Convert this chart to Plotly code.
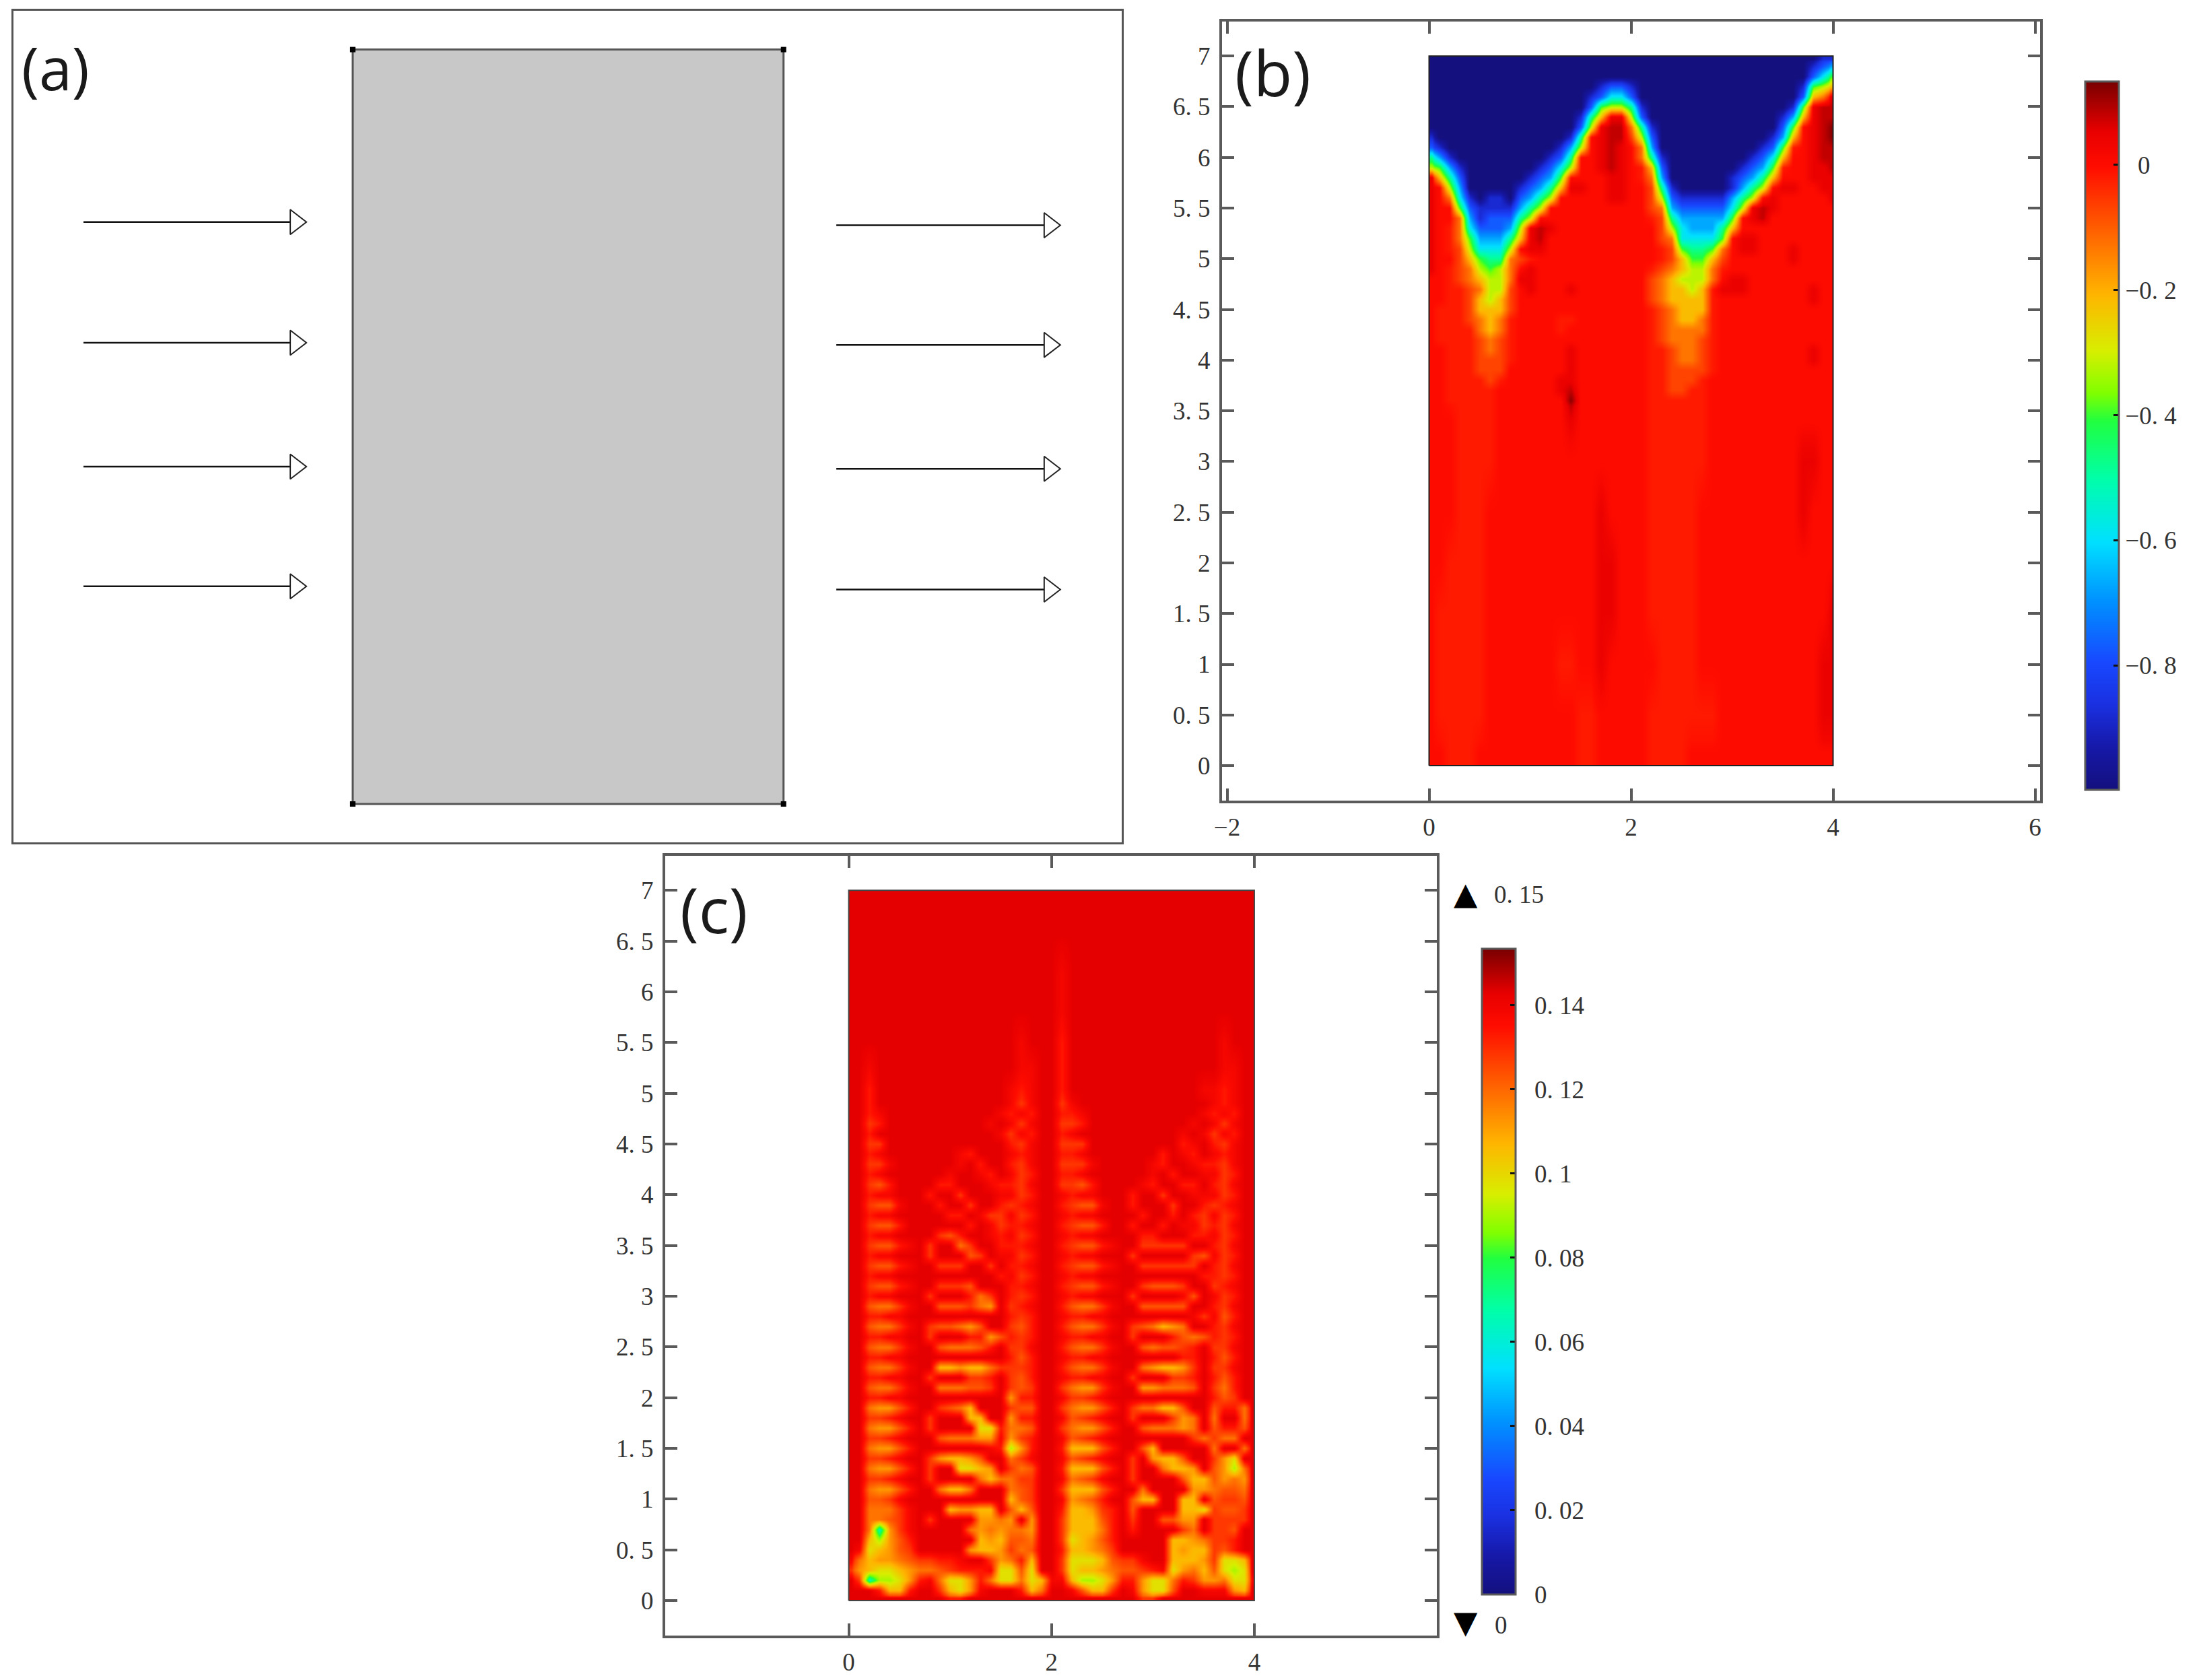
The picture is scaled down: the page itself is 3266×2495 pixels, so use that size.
import plotly.graph_objects as go

# page body keeps its 8px margin, so the figure is 16px smaller than the window
FIG_W = 3250
FIG_H = 2479
PAGE_MARGIN = 8

rect_x = [0, 4, 4, 0, 0]
rect_y = [0, 0, 7, 7, 0]
corner_x = [0, 4, 4, 0]
corner_y = [0, 0, 7, 7]

arrow_in_y = [5.40, 4.28, 3.13, 2.02]
arrow_in_x = [-2.50, -0.53]
arrow_out_y = [5.37, 4.26, 3.11, 1.99]
arrow_out_x = [4.49, 6.47]

rainbow = [
    [0.00, "#14107e"], [0.06, "#1618a8"], [0.12, "#1a30e0"], [0.18, "#1848ff"],
    [0.265, "#0090ff"], [0.35, "#00e0ff"], [0.44, "#00ffa8"], [0.52, "#20ff40"],
    [0.56, "#80ff00"], [0.62, "#d8ee00"], [0.70, "#ffb400"], [0.79, "#ff6000"],
    [0.88, "#ff0c00"], [0.93, "#e80000"], [1.00, "#780000"],
]

grid_x = [0, 0.1, 0.2, 0.3, 0.4, 0.5, 0.6, 0.7, 0.8, 0.9, 1, 1.1, 1.2, 1.3, 1.4, 1.5, 1.6, 1.7, 1.8, 1.9,
          2, 2.1, 2.2, 2.3, 2.4, 2.5, 2.6, 2.7, 2.8, 2.9, 3, 3.1, 3.2, 3.3, 3.4, 3.5, 3.6, 3.7, 3.8, 3.9, 4]

# panel (b): one letter per cell
b_levels = {
    "A": -1.0, "B": -0.88, "C": -0.77, "D": -0.67, "E": -0.58, "F": -0.48, "G": -0.4, "H": -0.32,
    "I": -0.22, "J": -0.13, "K": -0.07, "L": -0.02, "M": 0.0, "N": 0.045, "O": 0.08, "P": 0.12,
}
b_y = [7, 6.9, 6.8, 6.7, 6.6, 6.5, 6.4, 6.3, 6.2, 6.1, 6, 5.9, 5.8, 5.7, 5.6, 5.5, 5.4, 5.3, 5.2, 5.1,
       5, 4.9, 4.8, 4.7, 4.6, 4.5, 4.4, 4.3, 4.2, 4.1, 4, 3.9, 3.8, 3.7, 3.6, 3.5, 3, 2.5, 2, 1.5, 1, 0.5, 0]
b_rows = [
    "A" * 39 + "BB",
    "A" * 38 + "BCD",
    "A" * 38 + "CEG",
    "A" * 17 + "BCCB" + "A" * 16 + "BGHI",
    "A" * 16 + "BCEEC" + "A" * 16 + "CIJN",
    "A" * 16 + "CGHHFB" + "A" * 14 + "BGNOO",
    "A" * 15 + "BFINNHC" + "A" * 13 + "BDINOO",
    "A" * 15 + "CHNOOJFB" + "A" * 12 + "CGMNOP",
    "B" + "A" * 13 + "BFMNOOKHC" + "A" * 11 + "BDIMNOP",
    "CB" + "A" * 11 + "BDHMNONMJD" + "A" * 10 + "BCGLMNOO",
    "FDB" + "A" * 9 + "BCFMMNONMJFB" + "A" * 8 + "BCEIMMNOO",
    "HGDB" + "A" * 7 + "BCEHMMNONMLIC" + "A" * 7 + "BCDGLMMNNO",
    "NIFC" + "A" * 6 + "BCDG" + "MMMMNNMLJ" + "D" + "A" * 6 + "BCDFIMMMNNN",
    "NMHD" + "A" * 5 + "BCDFI" + "NNMMNNMMK" + "FB" + "A" * 5 + "BDFHMNNMMNN",
    "NMJEB" + "ABBA" + "CDFH" + "MMMMMNNMMK" + "HC" + "BBBB" + "BDFH" + "MNMMMMMN",
    "NMMGC" + "BBB" + "BDFH" + "MMMMMMMMMM" + "KJ" + "DC" + "CC" + "CCEH" + "NONMMMMMM",
    "NMMJDB" + "CC" + "CFH" + "MMMMMMMMMMM" + "LK" + "FD" + "DD" + "DDG" + "MNOMMMMMMM",
    "NMLJEC" + "CC" + "DH" + "NONMMMMMMMMMM" + "KH" + "EDDD" + "FI" + "MMMMMMMMMM",
    "NMLJGD" + "DD" + "FI" + "NOMMMMMMMMMMM" + "K" + "JEEEEG" + "MNN" + "MMMMMMMM",
    "NMLKHEEEH" + "MNN" + "MMMMMMMMMMM" + "LK" + "GFFGJ" + "MNNMMMN" + "MMMM",
    "NMMKIGFFJ" + "KLM" + "MMMMMMMMMMM" + "LK" + "IGGIK" + "MMMMMMNMMMM",
    "NMLKJHGHJ" + "MNM" + "MMMMMMMMMM" + "LKJIHHJL" + "MMMMMMMMMMM",
    "MMLKJIHHJ" + "NNM" + "MMMMMMMMMM" + "KJIHHHJM" + "NNMMMMMMMMM",
    "MMLLKJHHK" + "MNMMMN" + "MMMMMMM" + "KJ" + "IIHIL" + "NNNMMMMMMNMM",
    "MMLLKIHIK" + "MMMMMM" + "MMMMMMM" + "KJ" + "IIIIL" + "MMMMMMMMMNMM",
    "MLLLKIIIK" + "MMMMMM" + "MMMMMMM" + "LK" + "JIIIL" + "MMMMMMMMMMMM",
    "MLLLKJIJL" + "MMMMLL" + "MMMMMMM" + "LK" + "JIIJL" + "MMMMMMMMMMMM",
    "MLLLLJIJL" + "MMMMLM" + "MMMMMMM" + "LK" + "JJJJL" + "MMMMMMMMMMMM",
    "MLLLLKJKL" + "MMMMMM" + "MMMMMMM" + "LK" + "JJJKL" + "MMMMMMMMMMMM",
    "MMLLLKJKL" + "MMMMMN" + "MMMMMMM" + "LL" + "KJJKL" + "MMMMMMMMMNMM",
    "MMLLLKKKL" + "MMMMMN" + "MMMMMMM" + "LL" + "KJJKL" + "MMMMMMMMMNMM",
    "MMLLLKKKM" + "MMMMMN" + "MMMMMMM" + "LL" + "KKKKL" + "MMMMMMMMMMMM",
    "MMLLLLKLM" + "MMMMNN" + "MMMMMMM" + "LL" + "KKKLM" + "MMMMMMMMMMMM",
    "MMLLLLLMM" + "MMMMNO" + "MMMMMMM" + "LL" + "KKLLM" + "MMMMMMMMMMMM",
    "MMLLLLLMM" + "MMMMMP" + "MMMMMMM" + "LL" + "LLLLM" + "MMMMMMMMMMMM",
    "MMMLLLLMM" + "MMMMMN" + "MMMMMMM" + "LL" + "LLLLM" + "MMMMMMMMMMMM",
    "MMMLLLLMM" + "MMMMMM" + "MMMMMMM" + "LL" + "LLLLM" + "MMMMMMMMNNMM",
    "MMMLLLMMM" + "MMMMMM" + "MMNMMMM" + "LL" + "LLLMM" + "MMMMMMMMNMMM",
    "MMLLLLMMM" + "MMMMMM" + "MMNNMMM" + "LL" + "LLLMM" + "MMMMMMMMMMMM",
    "MLLLLLMMM" + "MMMMMM" + "MMNNMMM" + "LL" + "LLLMM" + "MMMMMMMMMMMN",
    "MLLLLLMMM" + "MMMMLL" + "MMNMMMM" + "ML" + "LLLMM" + "MMMMMMMMMMNN",
    "MLLLLLMMM" + "MMMMMM" + "LLMMMMM" + "LL" + "LLLLL" + "MMMMMMMMMMNN",
    "MMLLLMMMM" + "MMMMMM" + "LLMMMMM" + "LL" + "LLMMM" + "MMMMMMMMMMMM",
]

# panel (c): one digit per cell, groups follow the bands of the picture
c_levels = {
    "0": 0.143, "1": 0.138, "2": 0.133, "3": 0.128, "4": 0.123, "5": 0.118,
    "6": 0.112, "7": 0.106, "8": 0.098, "9": 0.09, "c": 0.065,
}
c_y = [7, 6.5, 6.2, 5.75, 5.5, 5.25, 5, 4.9, 4.8, 4.7, 4.6, 4.5, 4.4, 4.3, 4.2, 4.1, 4, 3.9, 3.8, 3.7, 3.6,
       3.5, 3.4, 3.3, 3.2, 3.1, 3, 2.9, 2.8, 2.7, 2.6, 2.5, 2.4, 2.3, 2.2, 2.1, 2, 1.9, 1.8, 1.7, 1.6, 1.5,
       1.4, 1.3, 1.2, 1.1, 1, 0.9, 0.8, 0.7, 0.6, 0.5, 0.4, 0.3, 0.2, 0.1, 0]
c_rows = [
    "00 000000 00000000 0000 00 000000 00000000 0000 0",
    "00 000000 00000000 0000 00 000000 00000000 0000 0",
    "00 000000 00000000 0000 01 000000 00000000 0000 0",
    "00 000000 00000000 0000 01 000000 00000000 0000 0",
    "00 000000 00000000 0100 02 000000 00000000 0100 0",
    "00 100000 00000000 0110 02 000000 00000000 0110 0",
    "00 200000 00000000 1210 02 000000 00000001 1210 0",
    "00 200000 00000000 1310 03 100000 00000000 1210 0",
    "00 210000 00000001 2120 02 210000 00000001 2120 0",
    "00 320000 00000010 1310 03 320000 00000010 1310 0",
    "00 200000 00000001 3120 02 100000 00000101 3120 0",
    "00 330000 00000000 2310 03 330000 00000210 2310 0",
    "00 210000 00012000 1210 02 210000 00020120 1210 0",
    "00 331000 00010200 2310 03 331000 00120012 2310 0",
    "00 210000 00100120 1320 02 210000 00102001 1320 0",
    "00 342000 02200012 2310 03 342000 01200220 2310 0",
    "00 211000 20030001 1320 01 211000 20030011 1320 0",
    "00 344100 02003002 3210 02 344100 20003002 3210 0",
    "00 211000 00220133 1320 01 211000 02002023 1320 0",
    "00 344200 00002013 2210 02 344200 20020113 2310 0",
    "00 211000 03420012 1320 01 211000 02200022 1320 0",
    "00 344210 30053002 2210 02 344210 03333300 2310 0",
    "00 211000 30004301 1320 01 211000 30000034 1320 0",
    "00 344210 03330030 2210 02 344210 03333330 2310 0",
    "00 211000 00000002 1320 01 211000 00000002 2320 0",
    "00 344210 03334000 2210 02 344210 03444300 3210 0",
    "00 211000 30002530 2320 01 211000 30000140 1320 0",
    "00 455310 04443560 3210 02 455310 04444400 2310 0",
    "00 221100 00000000 2320 01 221100 00000013 1420 0",
    "00 455310 34456400 3420 02 455310 34576500 2310 0",
    "00 221100 30002264 2320 01 221100 30002454 2320 0",
    "00 455310 04555420 3310 02 455310 04544320 3310 0",
    "00 221100 00000000 2420 01 221100 00000220 2420 0",
    "00 455310 07767753 3320 02 455310 05677630 3310 0",
    "00 221100 30003320 3420 01 221100 30003320 2420 0",
    "00 455310 05554430 3430 03 566310 06655540 3520 0",
    "00 221100 00000000 6220 01 332100 00000000 2430 0",
    "00 566420 03457000 3440 03 566420 35577400 4225 0",
    "00 332100 30007700 6220 01 432100 30003650 5005 0",
    "00 566420 30000882 5540 03 566420 04555650 4224 0",
    "00 332100 04555661 6320 01 432100 00000035 3550 0",
    "00 566420 00000012 9620 02 777420 04700000 5005 0",
    "00 332100 36776400 5310 01 432100 30677400 3680 0",
    "00 566420 30088760 3540 02 777420 30057760 4695 0",
    "00 332100 30000575 5330 01 543100 30000477 4656 0",
    "00 566420 05775000 5430 03 777420 05000066 5445 0",
    "00 443100 00000000 7430 01 654200 47700770 4334 0",
    "00 555310 00766770 4740 02 776320 40000778 3443 0",
    "00 554310 30000665 6060 03 777420 30044660 3333 0",
    "00 5c6310 00005656 5560 03 777520 20000350 3340 0",
    "00 796420 00000767 4450 03 876420 00007765 3320 0",
    "01 876430 00006776 3540 02 776530 00007677 3420 0",
    "15 766543 32210036 5270 03 888743 31007776 3887 0",
    "36 788765 54322218 8480 03 877654 43218657 4898 0",
    "03 c99862 15886258 8587 11 799862 26885236 6588 1",
    "00 027720 03786100 0275 00 147730 16884001 1167 0",
    "00 000000 00220000 0000 00 000000 03300000 0000 0",
]

y_ticks = [0, 0.5, 1, 1.5, 2, 2.5, 3, 3.5, 4, 4.5, 5, 5.5, 6, 6.5, 7]
y_tick_text = ["0", "0. 5", "1", "1. 5", "2", "2. 5", "3", "3. 5", "4", "4. 5", "5", "5. 5", "6", "6. 5", "7"]
b_x_ticks = [-2, 0, 2, 4, 6]
b_x_tick_text = ["−2", "0", "2", "4", "6"]
c_x_ticks = [0, 2, 4]
c_x_tick_text = ["0", "2", "4"]
b_bar_ticks = [0, -0.2, -0.4, -0.6, -0.8]
b_bar_text = ["\u00a0\u00a00", "−0. 2", "−0. 4", "−0. 6", "−0. 8"]
c_bar_ticks = [0, 0.02, 0.04, 0.06, 0.08, 0.1, 0.12, 0.14]
c_bar_text = ["\u00a0\u00a00", "\u00a0\u00a00. 02", "\u00a0\u00a00. 04", "\u00a0\u00a00. 06", "\u00a0\u00a00. 08",
              "\u00a0\u00a00. 1", "\u00a0\u00a00. 12", "\u00a0\u00a00. 14"]

LINE_GREY = "#5a5a5a"
TEXT_GREY = "#333333"
TICK_FONT = dict(family="Liberation Serif", size=37, color=TEXT_GREY)


def px_x(x):
    return (x - PAGE_MARGIN) / FIG_W


def px_y(y):
    return 1 - (y - PAGE_MARGIN) / FIG_H


def decode(rows, levels):
    cleaned = [r.replace(" ", "") for r in rows]
    for r in cleaned:
        assert len(r) == len(grid_x), r
    return [[levels[ch] for ch in r] for r in cleaned][::-1]


def edges(values):
    # cell bounds, so the field stops at the box instead of half a cell past it
    asc = sorted(values)
    return [asc[0]] + [(p + q) / 2 for p, q in zip(asc, asc[1:])] + [asc[-1]]


def color_bar(ticks, text, left, top, bottom):
    return dict(
        x=px_x(left), xanchor="left", xpad=0,
        y=px_y(top), yanchor="top", ypad=0, len=(bottom - top) / FIG_H,
        thickness=50, thicknessmode="pixels",
        tickvals=ticks, ticktext=text, ticks="inside", ticklen=9, tickwidth=3, tickcolor="#111111",
        tickfont=TICK_FONT, outlinecolor=LINE_GREY, outlinewidth=3,
    )


def frame_axis(left, right, rng, **kw):
    return dict(
        domain=[left, right], range=rng, showgrid=False, zeroline=False,
        showline=True, linecolor=LINE_GREY, linewidth=4, mirror="ticks",
        ticks="inside", ticklen=18, tickwidth=4, tickcolor=LINE_GREY,
        tickfont=TICK_FONT, **kw,
    )


fig = go.Figure()

# (a) schematic
fig.add_trace(go.Scatter(
    x=rect_x, y=rect_y, mode="lines", fill="toself", fillcolor="#c8c8c8",
    line=dict(color="#555555", width=3), xaxis="x", yaxis="y", showlegend=False,
))
fig.add_trace(go.Scatter(
    x=corner_x, y=corner_y, mode="markers",
    marker=dict(symbol="square", size=8, color="#000000"), xaxis="x", yaxis="y", showlegend=False,
))
for xs, ys in ((arrow_in_x, arrow_in_y), (arrow_out_x, arrow_out_y)):
    for y in ys:
        fig.add_trace(go.Scatter(
            x=xs, y=[y, y], mode="lines", line=dict(color="#111111", width=2.5),
            xaxis="x", yaxis="y", showlegend=False,
        ))
        fig.add_trace(go.Scatter(
            x=xs[1:], y=[y], mode="markers",
            marker=dict(symbol="triangle-right", size=32, color="#ffffff", line=dict(color="#222222", width=2)),
            xaxis="x", yaxis="y", showlegend=False,
        ))

# (b) field
fig.add_trace(go.Heatmap(
    x=edges(grid_x), y=edges(b_y), z=decode(b_rows, b_levels), zsmooth="best",
    colorscale=rainbow, zmin=-0.999, zmax=0.1325, xaxis="x2", yaxis="y2",
    colorbar=color_bar(b_bar_ticks, b_bar_text, 3097, 121.5, 1173),
))
fig.add_trace(go.Scatter(
    x=rect_x, y=rect_y, mode="lines", line=dict(color="#222222", width=2),
    xaxis="x2", yaxis="y2", showlegend=False,
))

# (c) field
fig.add_trace(go.Heatmap(
    x=edges(grid_x), y=edges(c_y), z=decode(c_rows, c_levels), zsmooth="best",
    colorscale=rainbow, zmin=0, zmax=0.1534, xaxis="x3", yaxis="y3",
    colorbar=color_bar(c_bar_ticks, c_bar_text, 2201, 1409, 2368),
))
fig.add_trace(go.Scatter(
    x=rect_x, y=rect_y, mode="lines", line=dict(color="#444444", width=2),
    xaxis="x3", yaxis="y3", showlegend=False,
))


def label(text, x, y, size=88, anchor="left", family="Open Sans", color="#1a1a1a"):
    return dict(
        text=text, x=px_x(x), y=px_y(y), xref="paper", yref="paper", xanchor=anchor, yanchor="middle",
        showarrow=False, font=dict(family=family, size=size, color=color),
    )


fig.update_layout(
    width=FIG_W, height=FIG_H, margin=dict(l=0, r=0, t=0, b=0, autoexpand=False),
    paper_bgcolor="#ffffff", plot_bgcolor="#ffffff", showlegend=False,
    xaxis=dict(
        domain=[px_x(20), px_x(1666)], range=[-3.15, 7.14], visible=True, showgrid=False, zeroline=False,
        showticklabels=False, ticks="", showline=True, mirror=True, linecolor="#555555", linewidth=3, anchor="y",
    ),
    yaxis=dict(
        domain=[px_y(1251), px_y(16)], range=[-0.356, 7.36], showgrid=False, zeroline=False,
        showticklabels=False, ticks="", showline=True, mirror=True, linecolor="#555555", linewidth=3, anchor="x",
    ),
    xaxis2=frame_axis(px_x(1815), px_x(3030), [-2.05, 6.05], tickvals=b_x_ticks, ticktext=b_x_tick_text,
                      anchor="y2", ticklabelstandoff=4),
    yaxis2=frame_axis(px_y(1189), px_y(32), [-0.345, 7.34], tickvals=y_ticks, ticktext=y_tick_text,
                      anchor="x2", ticklabelstandoff=6),
    xaxis3=frame_axis(px_x(988), px_x(2134), [-1.81, 5.8], tickvals=c_x_ticks, ticktext=c_x_tick_text,
                      anchor="y3", ticklabelstandoff=4),
    yaxis3=frame_axis(px_y(2429), px_y(1271), [-0.345, 7.34], tickvals=y_ticks, ticktext=y_tick_text,
                      anchor="x3", ticklabelstandoff=6),
    annotations=[
        label("(a)", 30, 100),
        label("(b)", 1832, 107, size=94),
        label("(c)", 1008, 1350, size=94),
        label("▲", 2177, 1327, size=46, anchor="center", family="DejaVu Sans", color="#000000"),
        label("▼", 2177, 2409, size=46, anchor="center", family="DejaVu Sans", color="#000000"),
        label("0. 15", 2217, 1329, size=37, family="Liberation Serif", color=TEXT_GREY),
        label("0", 2218, 2413, size=37, family="Liberation Serif", color=TEXT_GREY),
    ],
)

fig.write_html("out.html")
